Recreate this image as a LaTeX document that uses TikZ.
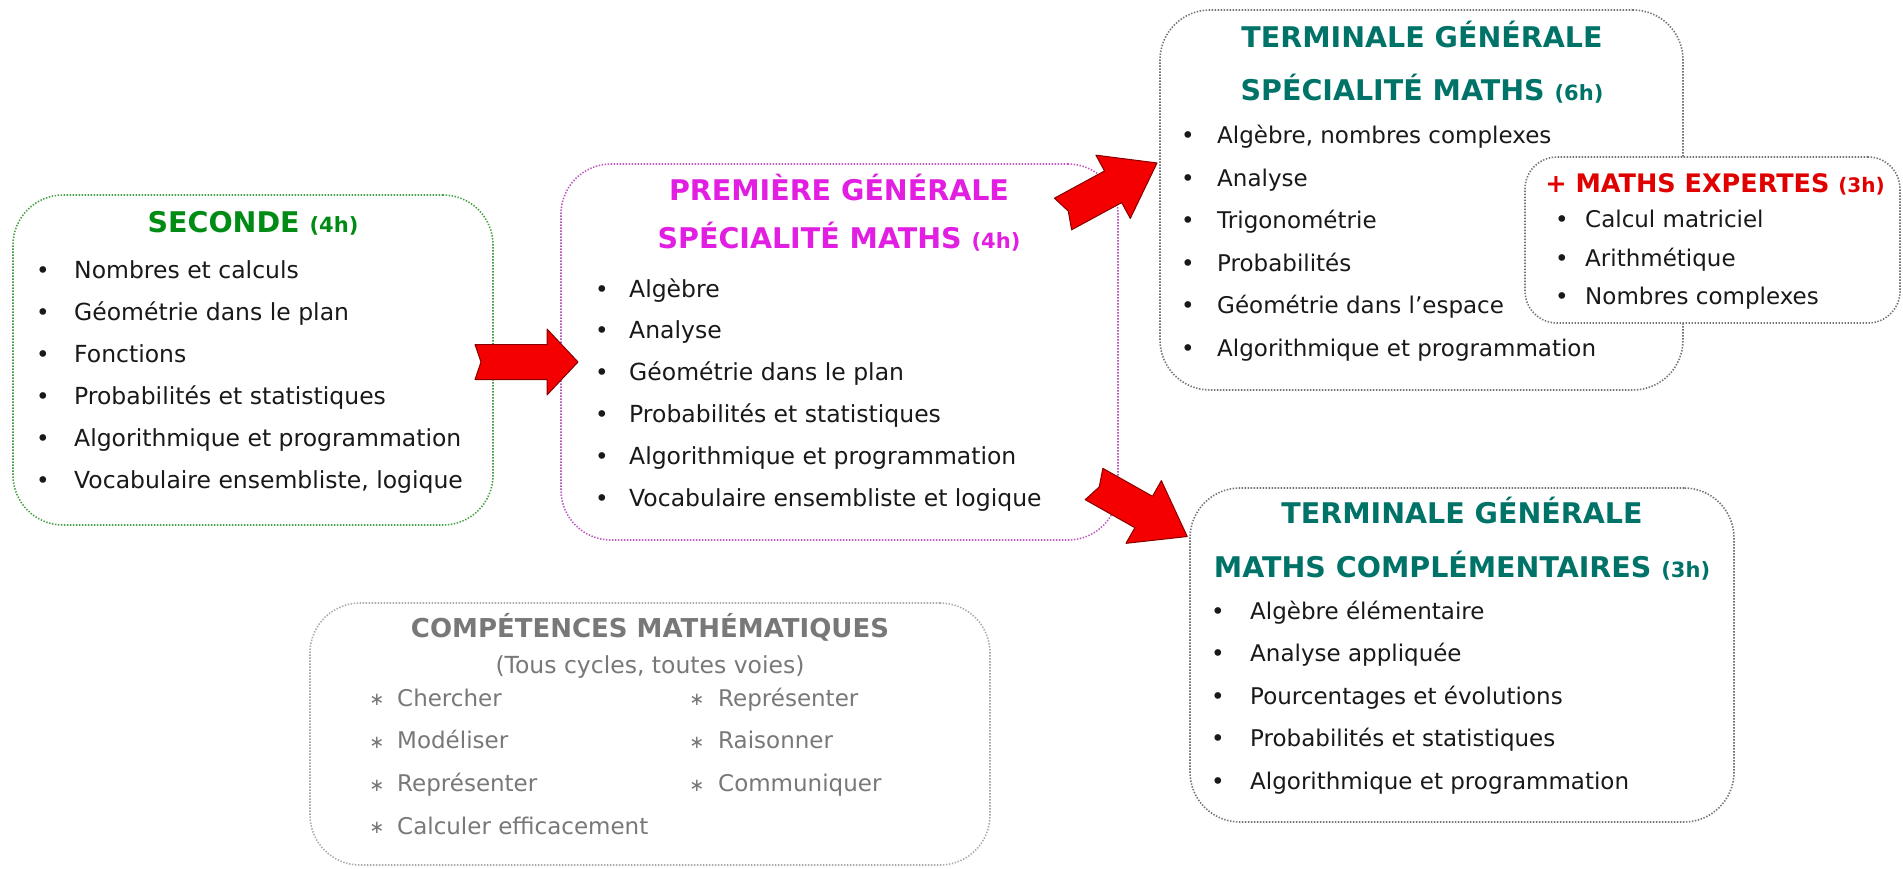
\documentclass[tikz,border=0pt]{standalone}
\usepackage{fontspec}
\setmainfont{DejaVu Sans}
\newcommand\fsz[1]{\fontsize{#1}{#1}\selectfont}
\definecolor{tgreen}{RGB}{0,140,20}
\definecolor{tmag}{RGB}{225,30,225}
\definecolor{tteal}{RGB}{0,115,105}
\definecolor{tred}{RGB}{225,0,0}
\definecolor{tgray}{RGB}{120,120,120}
\definecolor{ttext}{RGB}{25,25,25}
\definecolor{arrred}{RGB}{245,0,0}
\definecolor{bdgreen}{RGB}{70,160,70}
\definecolor{bdmag}{RGB}{190,90,190}
\definecolor{bdgray}{RGB}{115,115,115}
\definecolor{bdlight}{RGB}{170,170,170}
\begin{document}
\begin{tikzpicture}[x=1pt,y=-1pt,
  box/.style={draw=#1, fill=white, line width=1.6pt, dash pattern=on 1.4pt off 1.6pt,
              rounded corners=50pt, inner sep=0pt},
  title/.style={inner sep=0pt, font=\bfseries\fsz{28.5}, text height=21pt, text depth=0pt},
  item/.style={anchor=west, inner sep=0pt, font=\fsz{23}, text=ttext, text height=17pt, text depth=5pt},
  bul/.style={inner sep=0pt, font=\fsz{23}, text=ttext, text height=17pt, text depth=5pt},
  citem/.style={item, text=tgray},
  star/.style={inner sep=0pt, font=\fsz{18}, text=tgray},
  bigarrow/.style={fill=arrred, draw=arrred!55!black, line width=1pt, line join=round}]
\useasboundingbox (0,0) rectangle (1903,869);
\fill[white] (0,0) rectangle (1903,869);

% boxes
\node[box=bdgreen, minimum width=480pt, minimum height=330pt] (sec) at (253,360) {};
\node[box=bdmag, minimum width=557pt, minimum height=376pt] (pre) at (839.5,352) {};
\node[box=bdgray, minimum width=523pt, minimum height=380pt] (spe) at (1421.5,200) {};
\node[box=bdgray, rounded corners=32pt, minimum width=375pt, minimum height=166pt] (exp) at (1712.5,240) {};
\node[box=bdgray, minimum width=544pt, minimum height=334pt] (com) at (1462,655) {};
\node[box=bdlight, minimum width=680pt, minimum height=262pt] (cmp) at (650,734) {};

% arrows
\draw[bigarrow, shift={(475,362)}] (0,17.5) -- (72,17.5) -- (72,33) -- (103,0) -- (72,-33) -- (72,-17.5) -- (0,-17.5) -- (6,0) -- cycle;
\draw[bigarrow, shift={(1063,214)}, rotate=28.5] (0,18) -- (57,18) -- (57,36) -- (107,0) -- (57,-36) -- (57,-18) -- (0,-18) -- (6,0) -- cycle;
\draw[bigarrow, shift={(1094,484)}, rotate=-29.4] (0,18) -- (57,18) -- (57,36) -- (107,0) -- (57,-36) -- (57,-18) -- (0,-18) -- (6,0) -- cycle;

% SECONDE
\node[title, text=tgreen] (sect) at (253,222) {SECONDE {\fsz{21}(4h)}};
\foreach \t [count=\i from 0] in {Nombres et calculs, Géométrie dans le plan, Fonctions,
   Probabilités et statistiques, Algorithmique et programmation, {Vocabulaire ensembliste, logique}} {
  \node[bul] (sb\i) at (43,{272+42*\i}) {•};
  \node[item, font=\fsz{23.5}] (s\i) at (74,{272+42*\i}) {\t};
}

% PREMIERE
\node[title, text=tmag] (pret1) at (839,190) {PREMIÈRE GÉNÉRALE};
\node[title, text=tmag] (pret2) at (839,238) {SPÉCIALITÉ MATHS {\fsz{21}(4h)}};
\foreach \t [count=\i from 0] in {Algèbre, Analyse, Géométrie dans le plan,
   Probabilités et statistiques, Algorithmique et programmation, Vocabulaire ensembliste et logique} {
  \node[bul] (pb\i) at (602,{291+41.8*\i}) {•};
  \node[item, font=\fsz{23.5}] (p\i) at (629,{291+41.8*\i}) {\t};
}

% TERMINALE SPE
\node[title, text=tteal] (spet1) at (1422,37) {TERMINALE GÉNÉRALE};
\node[title, text=tteal] (spet2) at (1422,90) {SPÉCIALITÉ MATHS {\fsz{21}(6h)}};
\foreach \t [count=\i from 0] in {{Algèbre, nombres complexes}, Analyse, Trigonométrie,
   Probabilités, Géométrie dans l’espace, Algorithmique et programmation} {
  \node[bul] (tb\i) at (1188,{138+42.4*\i}) {•};
  \node[item] (t\i) at (1217,{138+42.4*\i}) {\t};
}

% MATHS EXPERTES
\node[title, text=tred, font=\bfseries\fsz{25.5}] (expt) at (1715,182) {+ MATHS EXPERTES {\fsz{20}(3h)}};
\foreach \t [count=\i from 0] in {Calcul matriciel, Arithmétique, Nombres complexes} {
  \node[bul] (eb\i) at (1562,{222+38*\i}) {•};
  \node[item] (e\i) at (1585,{222+38*\i}) {\t};
}

% TERMINALE COMPLEMENTAIRES
\node[title, text=tteal] (comt1) at (1462,513) {TERMINALE GÉNÉRALE};
\node[title, text=tteal] (comt2) at (1462,567) {MATHS COMPLÉMENTAIRES {\fsz{21}(3h)}};
\foreach \t [count=\i from 0] in {Algèbre élémentaire, Analyse appliquée, Pourcentages et évolutions,
   Probabilités et statistiques, Algorithmique et programmation} {
  \node[bul] (cb\i) at (1218,{613+42.5*\i}) {•};
  \node[item] (c\i) at (1250,{613+42.5*\i}) {\t};
}

% COMPETENCES
\node[title, text=tgray, font=\bfseries\fsz{26}] (cmpt) at (650,627) {COMPÉTENCES MATHÉMATIQUES};
\node[inner sep=0pt, font=\fsz{23.5}, text=tgray, text height=17pt, text depth=5pt] (cmps) at (650,667) {(Tous cycles, toutes voies)};
\foreach \t [count=\i from 0] in {Chercher, Modéliser, Représenter, Calculer efficacement} {
  \node[star] (kb\i) at (377,{700+42.7*\i}) {∗};
  \node[citem] (k\i) at (397,{700+42.7*\i}) {\t};
}
\foreach \t [count=\i from 0] in {Représenter, Raisonner, Communiquer} {
  \node[star] (lb\i) at (697,{700+42.7*\i}) {∗};
  \node[citem] (l\i) at (718,{700+42.7*\i}) {\t};
}
\end{tikzpicture}
\end{document}
